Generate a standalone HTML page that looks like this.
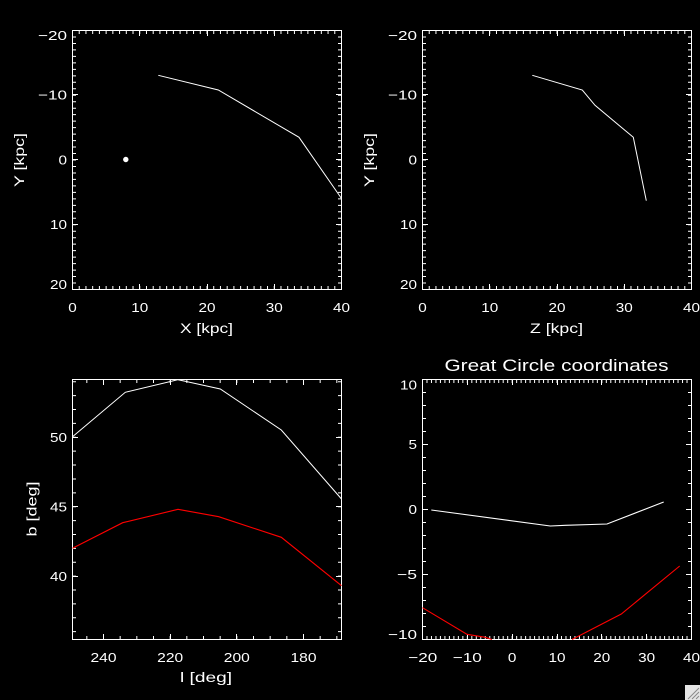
<!DOCTYPE html>
<html><head><meta charset="utf-8"><style>
html,body{margin:0;padding:0;background:#000;}
svg{display:block;}
text{font-family:"Liberation Sans",sans-serif;fill:#fff;}
</style></head><body>
<svg width="700" height="700" viewBox="0 0 700 700" xmlns="http://www.w3.org/2000/svg">
<rect width="700" height="700" fill="#000"/>

<!-- ================= TOP LEFT ================= -->
<g fill="none" stroke="#fff">
  <rect x="72.5" y="30.5" width="269" height="259" stroke-width="1"/>
  <path d="M72 288H342M72 32H342" stroke-width="4" stroke-dasharray="1 5.725"/>
  <path d="M74 30V290M340 30V290" stroke-width="4" stroke-dasharray="1 5.475"/>
  <path d="M139.5 289.5V284M207.5 289.5V284M274.5 289.5V284M139.5 30.5V36M207.5 30.5V36M274.5 30.5V36" stroke-width="1"/>
  <path d="M72.5 94.5H78M72.5 159.5H78M72.5 224.5H78M341.5 94.5H336M341.5 159.5H336M341.5 224.5H336" stroke-width="1"/>
  <polyline points="158.3,75.3 218.3,90 299,137.3 341.5,198.5" stroke-width="1"/>
</g>
<circle cx="125.8" cy="159.5" r="2.7" fill="#fff"/>
<g font-size="13" text-anchor="middle">
  <text x="72.5" y="312" textLength="8.5" lengthAdjust="spacingAndGlyphs">0</text>
  <text x="139.75" y="312" textLength="17" lengthAdjust="spacingAndGlyphs">10</text>
  <text x="207" y="312" textLength="17" lengthAdjust="spacingAndGlyphs">20</text>
  <text x="274.25" y="312" textLength="17" lengthAdjust="spacingAndGlyphs">30</text>
  <text x="341.5" y="312" textLength="17" lengthAdjust="spacingAndGlyphs">40</text>
</g>
<g font-size="13" text-anchor="end">
  <text x="67" y="40" textLength="29" lengthAdjust="spacingAndGlyphs">−20</text>
  <text x="67" y="99.5" textLength="29" lengthAdjust="spacingAndGlyphs">−10</text>
  <text x="67" y="164.3" textLength="8.5" lengthAdjust="spacingAndGlyphs">0</text>
  <text x="67" y="229" textLength="17" lengthAdjust="spacingAndGlyphs">10</text>
  <text x="67" y="289" textLength="17" lengthAdjust="spacingAndGlyphs">20</text>
</g>
<text x="206.5" y="333" font-size="13.5" text-anchor="middle" textLength="53" lengthAdjust="spacingAndGlyphs">X [kpc]</text>
<text transform="translate(24,160) rotate(-90)" font-size="13.5" text-anchor="middle" textLength="54" lengthAdjust="spacingAndGlyphs">Y [kpc]</text>

<!-- ================= TOP RIGHT ================= -->
<g fill="none" stroke="#fff">
  <rect x="422.5" y="30.5" width="269" height="259" stroke-width="1"/>
  <path d="M422 288H692M422 32H692" stroke-width="4" stroke-dasharray="1 5.725"/>
  <path d="M424 30V290M690 30V290" stroke-width="4" stroke-dasharray="1 5.475"/>
  <path d="M489.5 289.5V284M557.5 289.5V284M624.5 289.5V284M489.5 30.5V36M557.5 30.5V36M624.5 30.5V36" stroke-width="1"/>
  <path d="M422.5 94.5H428M422.5 159.5H428M422.5 224.5H428M691.5 94.5H686M691.5 159.5H686M691.5 224.5H686" stroke-width="1"/>
  <polyline points="532.3,75.3 582.3,90 595,105.3 633.3,137.3 646.3,200.7" stroke-width="1"/>
</g>
<g font-size="13" text-anchor="middle">
  <text x="422.5" y="312" textLength="8.5" lengthAdjust="spacingAndGlyphs">0</text>
  <text x="489.75" y="312" textLength="17" lengthAdjust="spacingAndGlyphs">10</text>
  <text x="557" y="312" textLength="17" lengthAdjust="spacingAndGlyphs">20</text>
  <text x="624.25" y="312" textLength="17" lengthAdjust="spacingAndGlyphs">30</text>
  <text x="691.5" y="312" textLength="17" lengthAdjust="spacingAndGlyphs">40</text>
</g>
<g font-size="13" text-anchor="end">
  <text x="417" y="40" textLength="29" lengthAdjust="spacingAndGlyphs">−20</text>
  <text x="417" y="99.5" textLength="29" lengthAdjust="spacingAndGlyphs">−10</text>
  <text x="417" y="164.3" textLength="8.5" lengthAdjust="spacingAndGlyphs">0</text>
  <text x="417" y="229" textLength="17" lengthAdjust="spacingAndGlyphs">10</text>
  <text x="417" y="289" textLength="17" lengthAdjust="spacingAndGlyphs">20</text>
</g>
<text x="556.5" y="333" font-size="13.5" text-anchor="middle" textLength="53" lengthAdjust="spacingAndGlyphs">Z [kpc]</text>
<text transform="translate(374,160) rotate(-90)" font-size="13.5" text-anchor="middle" textLength="54" lengthAdjust="spacingAndGlyphs">Y [kpc]</text>

<!-- ================= BOTTOM LEFT ================= -->
<g fill="none" stroke="#fff">
  <rect x="72.5" y="379.5" width="269" height="260" stroke-width="1"/>
  <path d="M86.33 638H342M86.33 381H342" stroke-width="4" stroke-dasharray="1 15.667"/>
  <path d="M74 381.28V640M340 381.28V640" stroke-width="4" stroke-dasharray="1 12.88"/>
  <path d="M103.5 639.5V634M170.5 639.5V634M236.5 639.5V634M303.5 639.5V634M103.5 379.5V385M170.5 379.5V385M236.5 379.5V385M303.5 379.5V385" stroke-width="1"/>
  <path d="M72.5 437.5H78M72.5 506.5H78M72.5 576.5H78M341.5 437.5H336M341.5 506.5H336M341.5 576.5H336" stroke-width="1"/>
  <polyline points="72.5,436.7 125.3,392.3 178,379.7 220.3,389 281.3,430 341.5,499" stroke-width="1"/>
  <polyline points="72.5,548.3 122.7,522.7 178,509.3 218.7,516.7 281.3,537.3 341.5,585.7" stroke="#ff0000" stroke-width="1.1"/>
</g>
<g font-size="13" text-anchor="middle">
  <text x="103.5" y="662" textLength="26" lengthAdjust="spacingAndGlyphs">240</text>
  <text x="170.2" y="662" textLength="26" lengthAdjust="spacingAndGlyphs">220</text>
  <text x="236.8" y="662" textLength="26" lengthAdjust="spacingAndGlyphs">200</text>
  <text x="303.5" y="662" textLength="26" lengthAdjust="spacingAndGlyphs">180</text>
</g>
<g font-size="13" text-anchor="end">
  <text x="67" y="442" textLength="17" lengthAdjust="spacingAndGlyphs">50</text>
  <text x="67" y="511.5" textLength="17" lengthAdjust="spacingAndGlyphs">45</text>
  <text x="67" y="581" textLength="17" lengthAdjust="spacingAndGlyphs">40</text>
</g>
<text x="206" y="682" font-size="13.5" text-anchor="middle" textLength="52" lengthAdjust="spacingAndGlyphs">l [deg]</text>
<text transform="translate(36.5,509) rotate(-90)" font-size="13.5" text-anchor="middle" textLength="55" lengthAdjust="spacingAndGlyphs">b [deg]</text>

<!-- ================= BOTTOM RIGHT ================= -->
<g fill="none" stroke="#fff">
  <rect x="422.5" y="379.5" width="269" height="260" stroke-width="1"/>
  <path d="M422 638H692M422 381H692" stroke-width="4" stroke-dasharray="1 3.4833"/>
  <path d="M424 379V640M690 379V640" stroke-width="4" stroke-dasharray="1 12"/>
  <path d="M467.5 639.5V634M512.5 639.5V634M557.5 639.5V634M601.5 639.5V634M646.5 639.5V634M467.5 379.5V385M512.5 379.5V385M557.5 379.5V385M601.5 379.5V385M646.5 379.5V385" stroke-width="1"/>
  <path d="M422.5 444.5H428M422.5 509.5H428M422.5 574.5H428M691.5 444.5H686M691.5 509.5H686M691.5 574.5H686" stroke-width="1"/>
  <polyline points="431.3,510 550.3,526 565.3,525.3 607,524 663.7,502" stroke-width="1.1"/>
  <polyline points="422.5,607.7 467,634.3 485.3,637.3 492,639.5" stroke="#ff0000" stroke-width="1.1"/>
  <polyline points="572,639.5 621.3,614 679.7,566" stroke="#ff0000" stroke-width="1.1"/>
</g>
<g font-size="13" text-anchor="middle">
  <text x="422.8" y="662" textLength="29" lengthAdjust="spacingAndGlyphs">−20</text>
  <text x="467.3" y="662" textLength="29" lengthAdjust="spacingAndGlyphs">−10</text>
  <text x="512.2" y="662" textLength="8.5" lengthAdjust="spacingAndGlyphs">0</text>
  <text x="557" y="662" textLength="17" lengthAdjust="spacingAndGlyphs">10</text>
  <text x="601.8" y="662" textLength="17" lengthAdjust="spacingAndGlyphs">20</text>
  <text x="646.7" y="662" textLength="17" lengthAdjust="spacingAndGlyphs">30</text>
  <text x="691.5" y="662" textLength="17" lengthAdjust="spacingAndGlyphs">40</text>
</g>
<g font-size="13" text-anchor="end">
  <text x="417" y="389.5" textLength="17" lengthAdjust="spacingAndGlyphs">10</text>
  <text x="417" y="449.2" textLength="8.5" lengthAdjust="spacingAndGlyphs">5</text>
  <text x="417" y="514.2" textLength="8.5" lengthAdjust="spacingAndGlyphs">0</text>
  <text x="417" y="579.2" textLength="20" lengthAdjust="spacingAndGlyphs">−5</text>
  <text x="417" y="639" textLength="29" lengthAdjust="spacingAndGlyphs">−10</text>
</g>
<text x="556.5" y="371" font-size="17" text-anchor="middle" textLength="224" lengthAdjust="spacingAndGlyphs">Great Circle coordinates</text>

<!-- resize grip -->
<rect x="685" y="685" width="15" height="15" fill="#e4e4e4"/>
<g stroke="#8a8a8a" stroke-width="1">
  <line x1="699" y1="688" x2="688" y2="699"/>
  <line x1="699" y1="692" x2="692" y2="699"/>
  <line x1="699" y1="696" x2="696" y2="699"/>
</g>
</svg>
</body></html>
